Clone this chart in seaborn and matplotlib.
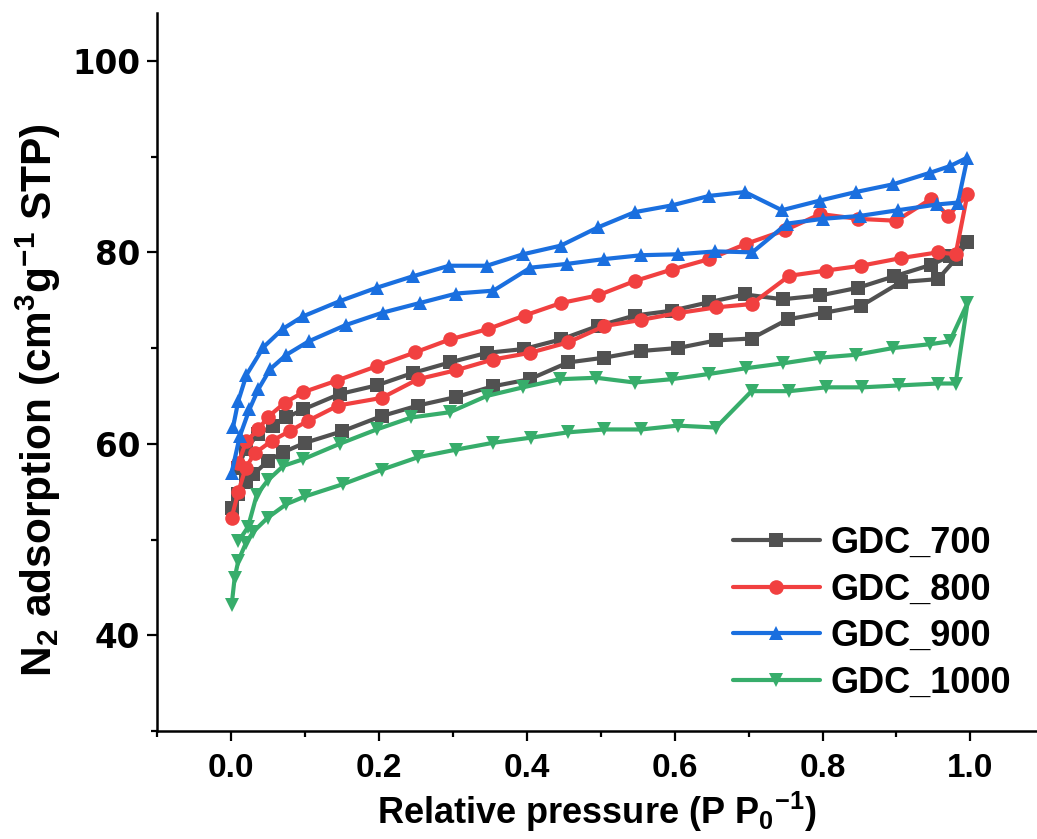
import matplotlib
matplotlib.use("Agg")
import matplotlib.pyplot as plt
from matplotlib.ticker import AutoMinorLocator
import seaborn as sns

# GDC_700 (adsorption then desorption)
p700_ads = [0.001, 0.01, 0.02, 0.03, 0.05, 0.07, 0.1, 0.15, 0.204, 0.253, 0.305, 0.354, 0.404, 0.456,
            0.505, 0.555, 0.604, 0.656, 0.704, 0.753, 0.803, 0.852, 0.906, 0.956, 0.98, 0.996]
v700_ads = [53.3, 54.8, 56.0, 56.8, 58.2, 59.1, 60.1, 61.3, 62.9, 64.0, 64.9, 66.0, 66.75, 68.5,
            69.0, 69.7, 70.0, 70.8, 71.0, 73.0, 73.7, 74.4, 76.9, 77.2, 79.3, 81.1]
p700_des = [0.972, 0.947, 0.897, 0.848, 0.797, 0.746, 0.695, 0.647, 0.596, 0.546, 0.496, 0.446, 0.396,
            0.346, 0.296, 0.246, 0.197, 0.147, 0.098, 0.075, 0.057, 0.037, 0.02, 0.01]
v700_des = [79.6, 78.7, 77.5, 76.3, 75.5, 75.1, 75.6, 74.8, 73.9, 73.4, 72.3, 70.9, 69.9,
            69.5, 68.5, 67.4, 66.1, 65.2, 63.6, 62.75, 61.9, 61.0, 59.5, 57.5]

# GDC_800
p800_ads = [0.001, 0.01, 0.02, 0.032, 0.055, 0.08, 0.104, 0.145, 0.204, 0.253, 0.305, 0.354, 0.404, 0.456,
            0.505, 0.555, 0.604, 0.656, 0.704, 0.755, 0.805, 0.852, 0.906, 0.956, 0.98, 0.996]
v800_ads = [52.3, 55.0, 57.5, 59.0, 60.3, 61.35, 62.4, 64.0, 64.8, 66.75, 67.7, 68.8, 69.5, 70.6,
            72.3, 72.95, 73.65, 74.25, 74.6, 77.55, 78.1, 78.6, 79.4, 80.0, 79.8, 86.1]
p800_des = [0.97, 0.947, 0.9, 0.848, 0.797, 0.749, 0.697, 0.647, 0.596, 0.546, 0.496, 0.446, 0.397,
            0.348, 0.296, 0.249, 0.197, 0.143, 0.098, 0.073, 0.05, 0.037, 0.021, 0.01]
v800_des = [83.8, 85.6, 83.3, 83.5, 84.0, 82.3, 80.9, 79.3, 78.2, 77.0, 75.5, 74.7, 73.4,
            72.0, 70.9, 69.55, 68.1, 66.6, 65.4, 64.3, 62.8, 61.5, 60.3, 58.0]

# GDC_900
p900_ads = [0.001, 0.012, 0.025, 0.037, 0.053, 0.075, 0.105, 0.155, 0.205, 0.255, 0.305, 0.355, 0.405,
            0.455, 0.505, 0.555, 0.605, 0.655, 0.705, 0.752, 0.8, 0.85, 0.902, 0.955, 0.983, 0.996]
v900_ads = [57.0, 60.8, 63.6, 65.7, 67.8, 69.3, 70.7, 72.4, 73.7, 74.7, 75.7, 76.0, 78.4,
            78.8, 79.3, 79.7, 79.8, 80.1, 80.0, 83.0, 83.5, 83.8, 84.4, 85.0, 85.2, 89.9]
p900_des = [0.972, 0.945, 0.895, 0.845, 0.796, 0.745, 0.695, 0.647, 0.596, 0.546, 0.496, 0.446, 0.395,
            0.346, 0.295, 0.246, 0.197, 0.147, 0.097, 0.07, 0.044, 0.021, 0.01, 0.003]
v900_des = [89.0, 88.3, 87.1, 86.3, 85.4, 84.4, 86.3, 85.9, 84.9, 84.2, 82.6, 80.7, 79.8,
            78.6, 78.6, 77.5, 76.3, 74.9, 73.3, 72.0, 70.1, 67.2, 64.5, 61.8]

# GDC_1000
p1000_ads = [0.001, 0.005, 0.01, 0.02, 0.03, 0.05, 0.075, 0.1, 0.152, 0.204, 0.253, 0.305, 0.354, 0.406,
             0.456, 0.505, 0.555, 0.604, 0.656, 0.704, 0.755, 0.805, 0.854, 0.904, 0.956, 0.98, 0.996]
v1000_ads = [43.2, 46.0, 47.8, 49.6, 50.8, 52.3, 53.7, 54.5, 55.8, 57.3, 58.6, 59.4, 60.1, 60.65,
             61.2, 61.5, 61.5, 61.9, 61.7, 65.5, 65.5, 65.9, 65.9, 66.1, 66.3, 66.3, 74.7]
p1000_des = [0.972, 0.945, 0.895, 0.845, 0.797, 0.746, 0.697, 0.647, 0.596, 0.546, 0.494, 0.445, 0.395,
             0.346, 0.296, 0.244, 0.197, 0.147, 0.098, 0.071, 0.05, 0.035, 0.023, 0.01]
v1000_des = [70.7, 70.4, 70.0, 69.3, 69.0, 68.4, 67.9, 67.3, 66.75, 66.4, 66.9, 66.75, 65.9,
             65.0, 63.3, 62.75, 61.5, 60.0, 58.4, 57.7, 56.2, 54.7, 51.3, 49.8]

labels = ['GDC_700', 'GDC_800', 'GDC_900', 'GDC_1000']
colors = ['#515151', '#F14040', '#1A6FDF', '#37AD6B']
markers = ['s', 'o', '^', 'v']

series = [
    (p700_ads + p700_des, v700_ads + v700_des),
    (p800_ads + p800_des, v800_ads + v800_des),
    (p900_ads + p900_des, v900_ads + v900_des),
    (p1000_ads + p1000_des, v1000_ads + v1000_des),
]

sns.set_style('ticks')
plt.rcParams['font.family'] = ['Liberation Sans', 'DejaVu Sans']
plt.rcParams['mathtext.fontset'] = 'custom'
plt.rcParams['mathtext.rm'] = 'Liberation Sans:bold'
plt.rcParams['mathtext.it'] = 'Liberation Sans:bold'
plt.rcParams['mathtext.bf'] = 'Liberation Sans:bold'
plt.rcParams['text.color'] = 'black'
plt.rcParams['axes.labelcolor'] = 'black'
plt.rcParams['xtick.color'] = 'black'
plt.rcParams['ytick.color'] = 'black'

fig = plt.figure(figsize=(10.37, 8.39), dpi=100)
ax = fig.add_axes([0.1514, 0.1287, 0.8486, 0.8558])

# each isotherm is one line: adsorption branch, then desorption branch
for (x, y), lab, c, m in zip(series, labels, colors, markers):
    sns.lineplot(x=x, y=y, sort=False, estimator=None, color=c, marker=m, markersize=10.5,
                 markeredgewidth=0, linewidth=3.0, label=lab, ax=ax)

ax.set_xlim(-0.1, 1.09)
ax.set_ylim(30, 105)
ax.xaxis.set_minor_locator(AutoMinorLocator(2))
ax.yaxis.set_minor_locator(AutoMinorLocator(2))
ax.set_xticks([0.0, 0.2, 0.4, 0.6, 0.8, 1.0])
ax.set_xticklabels(['0.0', '0.2', '0.4', '0.6', '0.8', '1.0'])
ax.set_yticks([40, 60, 80, 100])
ax.set_yticklabels(['40', '60', '80', '100'])

ax.tick_params(which='major', direction='out', length=7, width=1.6, pad=9)
ax.tick_params(which='minor', direction='out', length=4.5, width=1.6)
for t in ax.get_xticklabels():
    t.set_fontsize(24)
    t.set_fontweight('bold')
for t in ax.get_yticklabels():
    t.set_fontsize(23.5)
    t.set_fontweight('bold')
    t.set_family('DejaVu Sans')
ax.tick_params(axis='y', which='major', pad=5)

for s in ['top', 'right']:
    ax.spines[s].set_visible(False)
for s in ['left', 'bottom']:
    ax.spines[s].set_linewidth(1.8)
    ax.spines[s].set_color('black')

ax.set_xlabel('Relative pressure (P P$_0$$^{-1}$)', fontsize=26, fontweight='bold', labelpad=4)
ax.set_ylabel('N$_2$ adsorption (cm$^3$g$^{-1}$ STP)', fontsize=30.5, fontweight='bold')
ax.yaxis.set_label_coords(-0.107, 0.461)

leg = ax.legend(loc='center left', bbox_to_anchor=(0.6545, 0.164), frameon=False,
                borderpad=0, borderaxespad=0, handlelength=2.4, handletextpad=0.3,
                labelspacing=0.32, prop={'size': 26, 'weight': 'bold'})

fig.savefig('out.png', dpi=100)
